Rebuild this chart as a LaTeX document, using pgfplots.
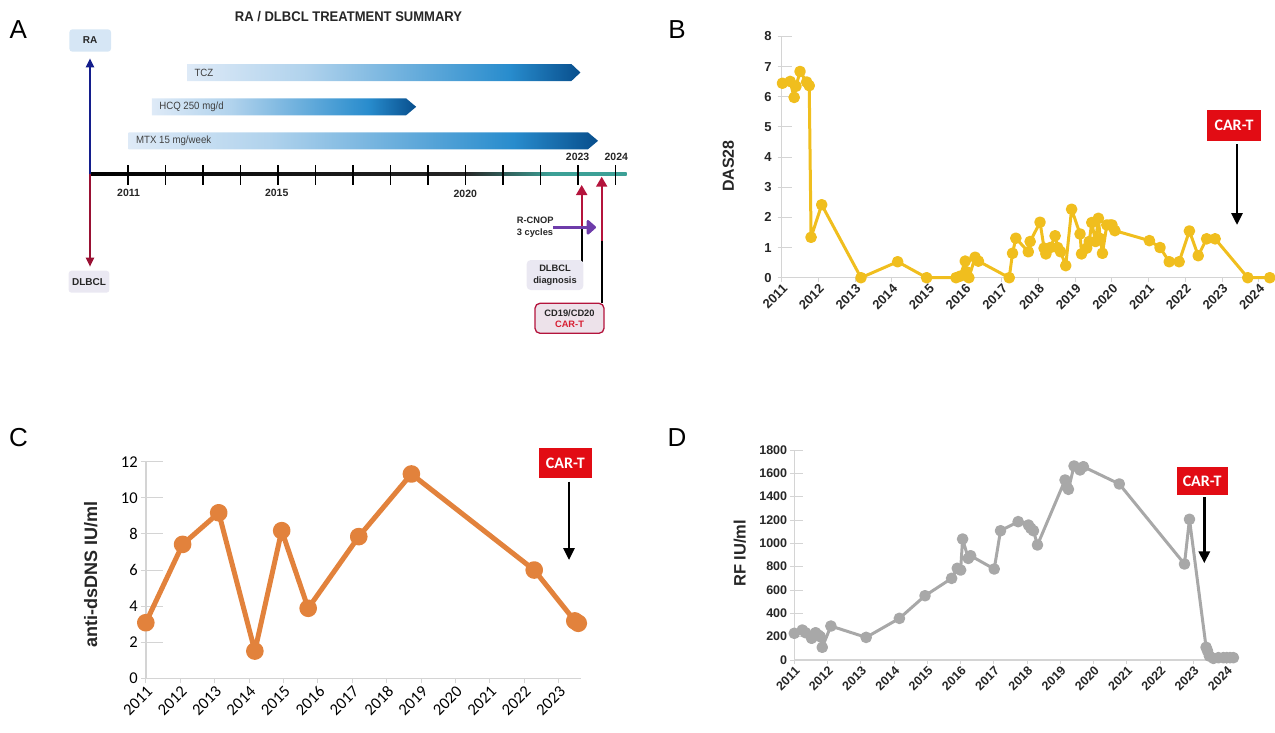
\documentclass[border=0pt]{standalone}
\usepackage{fontspec}
\setmainfont{Liberation Sans}
\newfontfamily\carlito{Carlito}
\usepackage{graphicx}
\usepackage{pgfplots}
\pgfplotsset{compat=1.18}
\usetikzlibrary{arrows.meta}

\definecolor{gold}{RGB}{240,190,30}
\definecolor{orng}{RGB}{226,130,60}
\definecolor{rfgray}{RGB}{168,168,168}
\definecolor{axgray}{RGB}{212,212,212}
\definecolor{cartred}{RGB}{226,12,20}
\definecolor{barlight}{RGB}{222,234,247}
\definecolor{barmid}{RGB}{40,140,205}
\definecolor{bardark}{RGB}{8,78,140}
\definecolor{navy}{RGB}{20,30,140}
\definecolor{crim}{RGB}{180,20,60}
\definecolor{crimtext}{RGB}{215,30,50}
\definecolor{tealx}{RGB}{60,160,150}
\definecolor{purp}{RGB}{110,60,170}
\definecolor{lav}{RGB}{234,232,242}
\definecolor{rablue}{RGB}{214,230,245}

\pgfdeclarehorizontalshading{barshade}{100bp}{color(0bp)=(barlight); color(25bp)=(barlight); color(40bp)=(barlight!75!barmid); color(66bp)=(barmid); color(75bp)=(bardark); color(100bp)=(bardark)}
\pgfdeclarehorizontalshading{timeshade}{100bp}{color(0bp)=(black); color(25bp)=(black); color(60bp)=(black!85); color(68bp)=(tealx); color(100bp)=(tealx)}

\begin{document}
\begin{tikzpicture}
\path[use as bounding box] (0pt,0pt) rectangle (1275pt,-732pt);

% ---------------- Panel letters ----------------
\node[font=\fontsize{26}{30}\selectfont] at (18.4pt,-29.3pt) {A};
\node[font=\fontsize{26}{30}\selectfont] at (677pt,-29.3pt) {B};
\node[font=\fontsize{26}{30}\selectfont] at (18.4pt,-438pt) {C};
\node[font=\fontsize{26}{30}\selectfont] at (677pt,-438pt) {D};

% ---------------- Panel A ----------------
\node[text=black!85] at (348.5pt,-16.7pt) {\scalebox{0.93}[1]{\bfseries\fontsize{14}{16}\selectfont RA / DLBCL TREATMENT SUMMARY}};

\begin{axis}[at={(71.55pt,0pt)}, anchor=north west, scale only axis,
  width=581.25pt, height=340pt, xmin=2009.5, xmax=2025, ymin=0, ymax=340,
  y dir=reverse, hide axis, clip=false]
 % treatment bars
 \addplot[draw=none, shade, shading=barshade, mark=none] coordinates {(2012.58,64) (2022.83,64) (2023.07,72.5) (2022.83,81) (2012.58,81)} -- cycle;
 \addplot[draw=none, shade, shading=barshade, mark=none] coordinates {(2011.64,98.3) (2018.42,98.3) (2018.69,106.8) (2018.42,115.3) (2011.64,115.3)} -- cycle;
 \addplot[draw=none, shade, shading=barshade, mark=none] coordinates {(2011.02,132.3) (2023.27,132.3) (2023.54,140.8) (2023.27,149.3) (2011.02,149.3)} -- cycle;
 \node[anchor=west, xshift=4pt, text=black!75] at (axis cs:2012.58,72.5) {\scalebox{0.92}[1]{\fontsize{10.5}{12}\selectfont TCZ}};
 \node[anchor=west, xshift=4pt, text=black!75] at (axis cs:2011.64,106.8) {\scalebox{0.92}[1]{\fontsize{10.5}{12}\selectfont HCQ 250 mg/d}};
 \node[anchor=west, xshift=4pt, text=black!75] at (axis cs:2011.02,140.8) {\scalebox{0.92}[1]{\fontsize{10.5}{12}\selectfont MTX 15 mg/week}};
 % timeline
 \shade[shading=timeshade] (axis cs:2010,172.8) rectangle (axis cs:2024.3,175.4);
 \pgfplotsinvokeforeach{2011,2012,2013,2014,2015,2016,2017,2018,2019,2020,2021,2022,2023,2024}{
   \draw[black, line width=1.4pt] (axis cs:#1,165) -- (axis cs:#1,185);
 }
\end{axis}

% vertical RA / DLBCL axis
\draw[navy, line width=2pt, -{Triangle[width=8pt,length=9pt]}] (90pt,-174pt) -- (90pt,-58.3pt);
\draw[crim!85!black, line width=2pt, -{Triangle[width=8pt,length=9pt]}] (90pt,-174pt) -- (90pt,-266.7pt);
\node[fill=rablue, rounded corners=3pt, minimum width=41.6pt, minimum height=22.4pt, inner sep=0pt,
  font=\bfseries\fontsize{10}{12}\selectfont, text=black!85] at (90.2pt,-40.5pt) {RA};
\node[fill=lav, rounded corners=3pt, minimum width=40.8pt, minimum height=22pt, inner sep=0pt,
  font=\bfseries\fontsize{10}{12}\selectfont, text=black!85] at (89pt,-281.7pt) {DLBCL};

% year labels
\node[font=\bfseries\fontsize{10.5}{12}\selectfont, text=black!85] at (128.6pt,-192.7pt) {2011};
\node[font=\bfseries\fontsize{10.5}{12}\selectfont, text=black!85] at (276.7pt,-193pt) {2015};
\node[font=\bfseries\fontsize{10.5}{12}\selectfont, text=black!85] at (465.3pt,-194pt) {2020};
\node[font=\bfseries\fontsize{10.5}{12}\selectfont, text=black!85] at (577.6pt,-157.3pt) {2023};
\node[font=\bfseries\fontsize{10.5}{12}\selectfont, text=black!85] at (616.3pt,-157.3pt) {2024};

% up arrows
\draw[black, line width=2pt] (581.7pt,-261.7pt) -- (581.7pt,-225pt);
\draw[crim, line width=2pt, -{Triangle[width=11pt,length=10pt]}] (581.7pt,-226pt) -- (581.7pt,-185pt);
\draw[black, line width=2pt] (601.7pt,-303.3pt) -- (601.7pt,-240pt);
\draw[crim, line width=2pt, -{Triangle[width=11pt,length=10pt]}] (601.7pt,-241pt) -- (601.7pt,-176.7pt);

% R-CNOP
\node[anchor=west, inner sep=0pt, align=left, font=\bfseries\fontsize{9.3}{12.3}\selectfont, text=black!85] at (516.7pt,-227.2pt) {R-CNOP\\3 cycles};
\draw[purp, line width=3.5pt, -{Triangle[width=17pt,length=10pt,round]}] (553.3pt,-227.3pt) -- (596pt,-227.3pt);

% boxes
\node[fill=lav, rounded corners=4pt, minimum width=56.6pt, minimum height=30pt, inner sep=0pt, align=center,
  font=\bfseries\fontsize{9.3}{11.7}\selectfont, text=black!85] at (555pt,-275pt) {DLBCL\\diagnosis};
\node[draw=crim, line width=1.3pt, fill=lav!85!pink, rounded corners=5pt, minimum width=69pt, minimum height=30pt, inner sep=0pt, align=center,
  font=\bfseries\fontsize{9.3}{11}\selectfont, text=black!85] at (569.5pt,-318.3pt) {CD19/CD20\\\textcolor{crimtext}{CAR-T}};

% ---------------- Panel B ----------------
\begin{axis}[at={(781.7pt,-277.7pt)}, anchor=south west, scale only axis,
  width=489.9pt, height=241.2pt, xmin=2011, xmax=2024.35, ymin=0, ymax=8,
  enlargelimits=false, clip=false,
  axis lines=left, axis line style={-, draw=axgray, line width=1.5pt},
  xtick={2011,2012,2013,2014,2015,2016,2017,2018,2019,2020,2021,2022,2023,2024},
  xticklabels={2011,2012,2013,2014,2015,2016,2017,2018,2019,2020,2021,2022,2023,2024},
  ytick={0,1,2,3,4,5,6,7,8}, yticklabels={0,1,2,3,4,5,6,7,8},
  tick align=outside, major tick length=4pt, tick style={draw=axgray, line width=1pt},
  ticklabel style={font=\bfseries\fontsize{13}{15}\selectfont, text=black!85},
  xticklabel style={rotate=45, anchor=north east, inner sep=1pt},
  yticklabel style={inner sep=3pt, xshift=-3pt}]
 \pgfplotsinvokeforeach{1,2,3,4,5,6,7,8}{\draw[axgray, line width=1pt] (axis cs:2011,#1) -- ++(10pt,0pt);}
 \addplot[gold, line width=3pt, line join=round, mark=*, mark size=4.3pt, mark options={fill=gold, draw=none}]
 coordinates {(2011.02,6.45) (2011.23,6.51) (2011.34,5.98) (2011.39,6.35) (2011.50,6.84) (2011.68,6.49) (2011.75,6.37) (2011.80,1.34) (2012.09,2.42) (2013.16,0.0) (2014.16,0.53) (2014.95,0.0) (2015.75,0.0) (2015.86,0.05) (2016.0,0.55) (2016.03,0.2) (2016.1,0.0) (2016.27,0.68) (2016.36,0.55) (2017.2,0.0) (2017.29,0.81) (2017.38,1.31) (2017.72,0.86) (2017.77,1.2) (2018.04,1.84) (2018.15,0.98) (2018.2,0.79) (2018.32,1.0) (2018.45,1.39) (2018.52,1.0) (2018.6,0.86) (2018.74,0.4) (2018.9,2.27) (2019.13,1.45) (2019.17,0.79) (2019.31,0.98) (2019.38,1.2) (2019.45,1.83) (2019.55,1.2) (2019.63,1.97) (2019.68,1.3) (2019.74,0.81) (2019.86,1.75) (2019.95,1.75) (2020.0,1.75) (2020.08,1.56) (2021.02,1.23) (2021.31,1.0) (2021.56,0.53) (2021.83,0.53) (2022.11,1.55) (2022.35,0.73) (2022.58,1.29) (2022.81,1.29) (2023.7,0.0) (2024.3,0.0)};
\end{axis}
\node[rotate=90, font=\bfseries\fontsize{16}{18}\selectfont, text=black!85] at (728.3pt,-166pt) {DAS28};
\node[fill=cartred, minimum width=54pt, minimum height=31pt, inner sep=0pt, text=white,
  font=\carlito\bfseries\fontsize{16}{18}\selectfont] at (1234pt,-125.5pt) {CAR-T};
\draw[line width=2.8pt, -{Triangle[width=11pt,length=12pt]}] (1237pt,-144pt) -- (1237pt,-225pt);

% ---------------- Panel C ----------------
\begin{axis}[at={(145.8pt,-678.3pt)}, anchor=south west, scale only axis,
  width=435.2pt, height=216.6pt, xmin=2011, xmax=2023.65, ymin=0, ymax=12,
  enlargelimits=false, clip=false,
  axis lines=left, axis line style={-, draw=axgray, line width=1.5pt},
  xtick={2011,2012,2013,2014,2015,2016,2017,2018,2019,2020,2021,2022,2023},
  xticklabels={2011,2012,2013,2014,2015,2016,2017,2018,2019,2020,2021,2022,2023},
  ytick={0,2,4,6,8,10,12}, yticklabels={0,2,4,6,8,10,12},
  tick align=outside, major tick length=5pt, tick style={draw=axgray, line width=1pt},
  ticklabel style={font=\carlito\fontsize{16.5}{19}\selectfont, text=black},
  xticklabel style={rotate=45, anchor=north east, inner sep=1pt},
  yticklabel style={inner sep=3pt}]
 \pgfplotsinvokeforeach{2,4,6,8,10,12}{\draw[axgray, line width=1pt] (axis cs:2011,#1) -- ++(17pt,0pt);}
 \addplot[orng, line width=5pt, line join=round, mark=*, mark size=6.3pt, mark options={fill=orng, draw=none}]
 coordinates {(2011.0,3.08) (2012.07,7.42) (2013.12,9.17) (2014.17,1.51) (2014.95,8.18) (2015.72,3.88) (2017.19,7.85) (2018.72,11.32) (2022.29,6.0) (2023.47,3.18) (2023.57,3.05)};
\end{axis}
\node[rotate=90, font=\bfseries\fontsize{18}{20}\selectfont, text=black!85] at (90.8pt,-574pt) {anti-dsDNS IU/ml};
\node[fill=cartred, minimum width=52.7pt, minimum height=30pt, inner sep=0pt, text=white,
  font=\carlito\bfseries\fontsize{16}{18}\selectfont] at (565.3pt,-463pt) {CAR-T};
\draw[line width=2.8pt, -{Triangle[width=11pt,length=12pt]}] (569pt,-481.7pt) -- (569pt,-560pt);

% ---------------- Panel D ----------------
\begin{axis}[at={(794.3pt,-660pt)}, anchor=south west, scale only axis,
  width=442.4pt, height=210pt, xmin=2011, xmax=2024.3, ymin=0, ymax=1800,
  enlargelimits=false, clip=false,
  axis lines=left, axis line style={-, draw=axgray, line width=1.5pt},
  xtick={2011,2012,2013,2014,2015,2016,2017,2018,2019,2020,2021,2022,2023,2024},
  xticklabels={2011,2012,2013,2014,2015,2016,2017,2018,2019,2020,2021,2022,2023,2024},
  ytick={0,200,400,600,800,1000,1200,1400,1600,1800},
  yticklabels={0,200,400,600,800,1000,1200,1400,1600,1800},
  tick align=outside, major tick length=4pt, tick style={draw=axgray, line width=1pt},
  ticklabel style={font=\bfseries\fontsize{12.5}{15}\selectfont, text=black!85},
  xticklabel style={rotate=45, anchor=north east, inner sep=1pt},
  yticklabel style={inner sep=3pt}]
 \pgfplotsinvokeforeach{200,400,600,800,1000,1200,1400,1600,1800}{\draw[axgray, line width=1pt] (axis cs:2011,#1) -- ++(9pt,0pt);}
 \addplot[rfgray, line width=3pt, line join=round, mark=*, mark size=4.3pt, mark options={fill=rfgray, draw=none}]
 coordinates {(2011.0,229) (2011.24,257) (2011.34,234) (2011.52,186) (2011.64,234) (2011.72,214) (2011.78,200) (2011.84,109) (2012.1,291) (2013.16,194) (2014.16,357) (2014.93,551) (2015.73,700) (2015.9,786) (2016.0,771) (2016.06,1037) (2016.23,871) (2016.3,894) (2017.01,780) (2017.2,1108) (2017.73,1186) (2018.04,1157) (2018.11,1129) (2018.19,1108) (2018.31,986) (2019.14,1543) (2019.19,1486) (2019.24,1463) (2019.41,1663) (2019.59,1629) (2019.69,1657) (2020.77,1509) (2022.73,823) (2022.88,1206) (2023.38,109) (2023.42,80) (2023.48,34) (2023.6,14) (2023.75,20) (2023.9,20) (2024.0,20) (2024.1,20) (2024.2,20)};
\end{axis}
\node[rotate=90, font=\bfseries\fontsize{16.5}{18}\selectfont, text=black!85] at (739.7pt,-553.3pt) {RF IU/ml};
\node[fill=cartred, minimum width=51pt, minimum height=28.3pt, inner sep=0pt, text=white,
  font=\carlito\bfseries\fontsize{16}{18}\selectfont] at (1202.2pt,-480.8pt) {CAR-T};
\draw[line width=2.8pt, -{Triangle[width=11pt,length=12pt]}] (1204.3pt,-497.3pt) -- (1204.3pt,-563.3pt);

\end{tikzpicture}
\end{document}
